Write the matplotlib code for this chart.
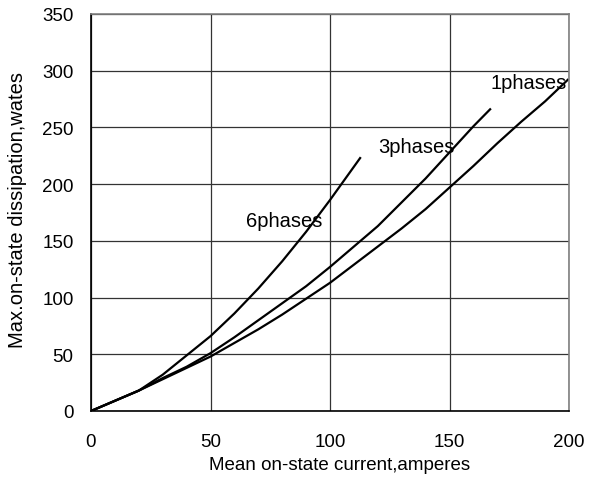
import numpy as np
import matplotlib.pyplot as plt
from matplotlib.transforms import Bbox

plt.rcParams['font.family'] = ['Liberation Sans', 'DejaVu Sans']

# 读图估计的曲线数据
x_1ph = [0, 20, 30, 40, 50, 60, 70, 80, 90, 100, 110, 120, 130, 140, 150, 160, 170, 180, 190, 199.5]
y_1ph = [0, 18, 28, 38, 48, 60, 72, 85, 99, 113, 129, 145, 161, 178, 197, 216, 236, 255, 273, 292]

x_3ph = [0, 20, 30, 40, 50, 60, 70, 80, 90, 100, 110, 120, 130, 140, 150, 160, 167]
y_3ph = [0, 18, 29, 39, 51, 65, 80, 95, 110, 127, 145, 163, 184, 205, 228, 251, 266]

x_6ph = [0, 20, 30, 40, 50, 60, 70, 80, 90, 100, 112.6]
y_6ph = [0, 18, 32, 49, 66, 86, 108, 132, 158, 186, 223]

labels = ['1phases', '3phases', '6phases']
label_pos = [(167, 284.6), (120, 228), (65, 163.4)]

fig = plt.figure(figsize=(5.9, 4.89), dpi=100)
ax = fig.add_axes([91/590, 1-412/489, 478/590, 397/489])

for xs, ys in [(x_1ph, y_1ph), (x_3ph, y_3ph), (x_6ph, y_6ph)]:
    ax.plot(xs, ys, '-', color='black', linewidth=1.6, solid_joinstyle='round')

for t, (px, py) in zip(labels, label_pos):
    ax.text(px, py, t, fontsize=14.5, ha='left', va='baseline')

ax.set_xlim(0, 200)
ax.set_ylim(0, 350)
ax.set_xticks([0, 50, 100, 150, 200])
ax.set_yticks(np.arange(0, 351, 50))
ax.grid(True, color='#333333', linewidth=0.9)
ax.tick_params(axis='x', length=0, pad=16, labelsize=13.5)
ax.tick_params(axis='y', length=0, pad=12.5, labelsize=13.5)
for s in ['top', 'right']:
    ax.spines[s].set_color('#808080')
    ax.spines[s].set_linewidth(1.2)
ax.spines['left'].set_linewidth(1.2)
ax.spines['bottom'].set_linewidth(1.2)

fig.text(340/590, 1-466/489, 'Mean on-state current,amperes', fontsize=13.5,
         ha='center', va='center')
yl = fig.text(17.5/590, 1-348/489, 'Max.on-state dissipation,wates', fontsize=14.5,
              rotation=90, ha='center', va='bottom')
# 纵轴标题顶部被截断
yl.set_clip_box(Bbox([[0, 0], [590, 489-62]]))
yl.set_clip_on(True)

plt.savefig('out.png')
